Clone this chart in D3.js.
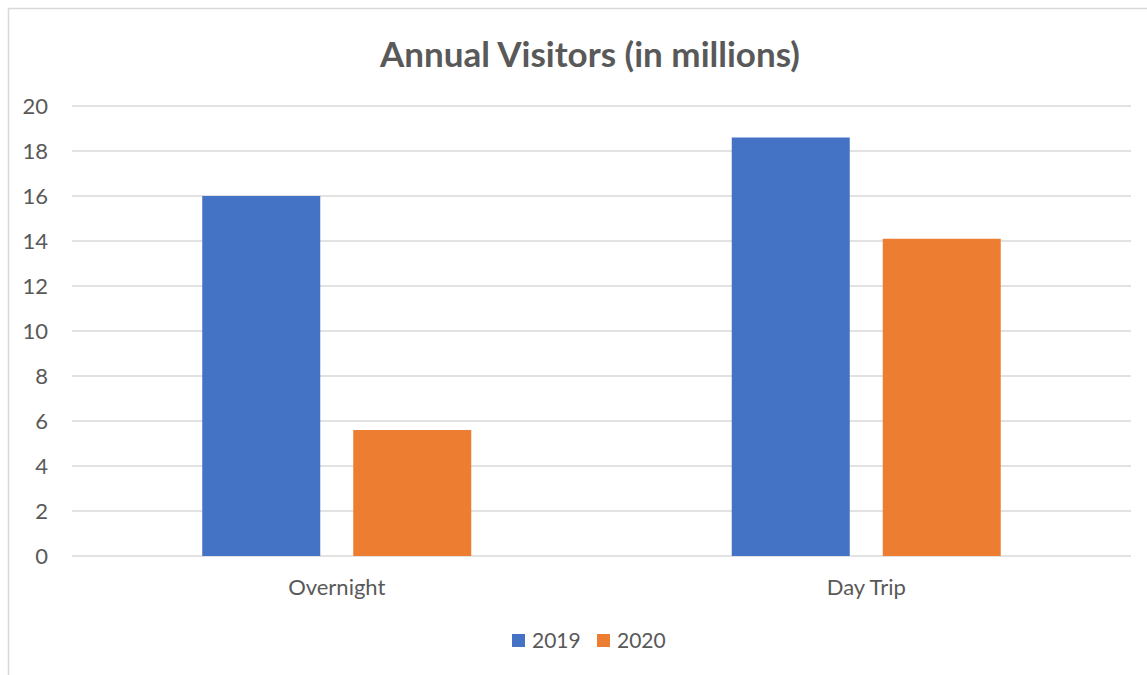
<!DOCTYPE html>
<html>
<head>
<meta charset="utf-8">
<script src="https://cdn.jsdelivr.net/npm/d3@7"></script>
<style>
  body { margin: 0; background: #fff; }
  text { font-family: Lato, "Open Sans", sans-serif; fill: #595959; }
</style>
</head>
<body>
<div id="container"></div>
<script>
const categories = ["Overnight", "Day Trip"];
const seriesNames = ["2019", "2020"];
const values2019 = [16, 18.6];
const values2020 = [5.6, 14.1];
const yTicks = [0, 2, 4, 6, 8, 10, 12, 14, 16, 18, 20];

const data = categories.map((c, i) => ({
  category: c,
  values: [
    { series: "2019", value: values2019[i] },
    { series: "2020", value: values2020[i] },
  ],
}));

const width = 1147, height = 675;
const plot = { left: 72, right: 1131, top: 106, bottom: 556 };

const color = d3.scaleOrdinal().domain(seriesNames).range(["#4472C4", "#ED7D31"]);

const x = d3.scaleBand().domain(categories).range([plot.left, plot.right]);
const xInner = d3.scaleBand().domain(seriesNames).range([0, x.bandwidth()]).paddingInner(0.2185).paddingOuter(0.8626);
const y = d3.scaleLinear().domain([0, 20]).range([plot.bottom, plot.top]);

const svg = d3.select("#container").append("svg")
  .attr("width", width).attr("height", height);

// chart border
svg.append("rect")
  .attr("x", 8.5).attr("y", 8.5)
  .attr("width", width + 10).attr("height", height + 10)
  .attr("fill", "none").attr("stroke", "#D9D9D9").attr("stroke-width", 1.5);

// title
svg.append("text")
  .attr("x", 590).attr("y", 67)
  .attr("text-anchor", "middle")
  .style("font-size", "35px").style("font-weight", "bold")
  .text("Annual Visitors (in millions)");

// gridlines
svg.append("g").selectAll("line")
  .data(yTicks).enter().append("line")
  .attr("x1", plot.left).attr("x2", plot.right)
  .attr("y1", (d) => y(d)).attr("y2", (d) => y(d))
  .attr("stroke", "#D9D9D9").attr("stroke-width", 1.5);

// y axis labels
const yAxis = d3.axisLeft(y).tickValues(yTicks).tickSize(0).tickPadding(0);
svg.append("g")
  .attr("transform", `translate(48, 0)`)
  .call(yAxis)
  .call((g) => g.select(".domain").remove())
  .call((g) => g.selectAll("text").style("font-size", "22px").attr("fill", "#595959").attr("font-family", null));

// bars
const groups = svg.append("g").selectAll("g")
  .data(data).enter().append("g")
  .attr("transform", (d) => `translate(${x(d.category)},0)`);

groups.selectAll("rect")
  .data((d) => d.values).enter().append("rect")
  .attr("x", (d) => xInner(d.series))
  .attr("width", xInner.bandwidth())
  .attr("y", (d) => y(d.value))
  .attr("height", (d) => y(0) - y(d.value))
  .attr("fill", (d) => color(d.series));

// x axis labels
const xAxis = d3.axisBottom(x).tickSize(0).tickPadding(0);
svg.append("g")
  .attr("transform", `translate(0, ${plot.bottom + 23})`)
  .call(xAxis)
  .call((g) => g.select(".domain").remove())
  .call((g) => g.selectAll("text").style("font-size", "22px").attr("fill", "#595959").attr("font-family", null));

// legend
const legend = svg.append("g").selectAll("g")
  .data(seriesNames).enter().append("g")
  .attr("transform", (d, i) => `translate(${512 + i * 85}, 634)`);
legend.append("rect")
  .attr("width", 13).attr("height", 13)
  .attr("fill", (d) => color(d));
legend.append("text")
  .attr("x", 20).attr("y", 14)
  .style("font-size", "21px")
  .text((d) => d);
</script>
</body>
</html>
